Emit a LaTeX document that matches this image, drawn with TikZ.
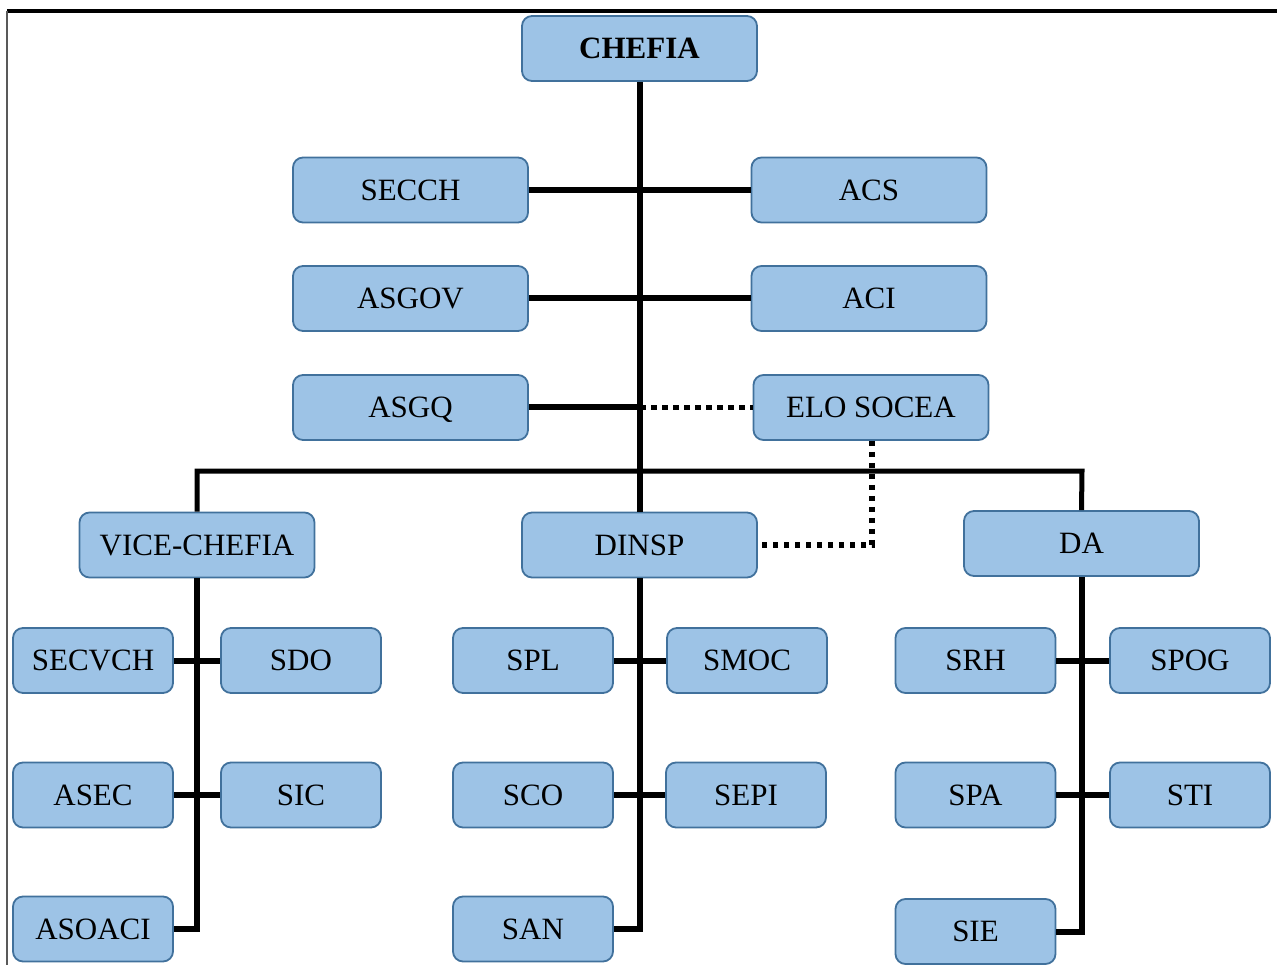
\documentclass[tikz,border=0pt]{standalone}
\usepackage{fontspec}
\setmainfont{Liberation Serif}
\definecolor{boxfill}{RGB}{157,195,230}
\definecolor{boxline}{RGB}{65,113,156}
\begin{document}
\begin{tikzpicture}[x=1pt,y=-1pt,
  box/.style={draw=boxline,line width=1.8pt,fill=boxfill,rounded corners=10pt,
    minimum height=65pt,inner sep=0pt,text height=20.5pt,text depth=0pt,
    font=\fontsize{31}{36}\selectfont},
  wide/.style={box,minimum width=235pt},
  narrow/.style={box,minimum width=160pt},
  conn/.style={line width=6pt},
  dots/.style={line width=5.5pt,dash pattern=on 5.5pt off 5.5pt}]
\useasboundingbox (0,0) rectangle (1277,965);
% frame
\draw[line width=3.5pt] (7,11) -- (1277,11);
\draw[line width=2.5pt,black!65] (7,11) -- (7,965);
% nodes
\node[wide,font=\fontsize{31}{36}\selectfont\bfseries] (chefia) at (639.5,48.5) {CHEFIA};
\node[wide] (secch) at (410.5,190) {SECCH};
\node[wide] (acs) at (869,190) {ACS};
\node[wide] (asgov) at (410.5,298.5) {ASGOV};
\node[wide] (aci) at (869,298.5) {ACI};
\node[wide] (asgq) at (410.5,407.5) {ASGQ};
\node[wide] (elo) at (871,407.5) {ELO SOCEA};
\node[wide] (vice) at (197,545) {VICE-CHEFIA};
\node[wide] (dinsp) at (639.5,545) {DINSP};
\node[wide] (da) at (1081.5,543.5) {DA};
\node[narrow] (secvch) at (93,660.5) {SECVCH};
\node[narrow] (sdo) at (301,660.5) {SDO};
\node[narrow] (asec) at (93,795) {ASEC};
\node[narrow] (sic) at (301,795) {SIC};
\node[narrow] (asoaci) at (93,929) {ASOACI};
\node[narrow] (spl) at (533,660.5) {SPL};
\node[narrow] (smoc) at (747,660.5) {SMOC};
\node[narrow] (sco) at (533,795) {SCO};
\node[narrow] (sepi) at (746,795) {SEPI};
\node[narrow] (san) at (533,929) {SAN};
\node[narrow] (srh) at (975.5,660.5) {SRH};
\node[narrow] (spog) at (1190,660.5) {SPOG};
\node[narrow] (spa) at (975.5,795) {SPA};
\node[narrow] (sti) at (1190,795) {STI};
\node[narrow] (sie) at (975.5,931.5) {SIE};
% junction coordinates
\coordinate (bl) at (197,471);
\coordinate (br) at (1082,471);
\coordinate (jq) at (640,407.5);
\coordinate (ed) at (872,545);
% connectors
\draw[conn] (chefia.south) -- (dinsp.north);
\draw[conn] (secch.east) -- (acs.west);
\draw[conn] (asgov.east) -- (aci.west);
\draw[conn] (asgq.east) -- (jq);
\draw[dots] (jq) -- (elo.west);
\draw[dots] (elo.south -| ed) -- (ed) -- (dinsp.east);
\draw[line width=5pt] (vice.north) |- (bl) -- (br) -- (da.north);
\draw[conn] (vice.south) |- (asoaci.east);
\draw[conn] (secvch.east) -- (sdo.west);
\draw[conn] (asec.east) -- (sic.west);
\draw[conn] (dinsp.south) |- (san.east);
\draw[conn] (spl.east) -- (smoc.west);
\draw[conn] (sco.east) -- (sepi.west);
\draw[conn] (da.south) |- (sie.east);
\draw[conn] (srh.east) -- (spog.west);
\draw[conn] (spa.east) -- (sti.west);
\end{tikzpicture}
\end{document}
